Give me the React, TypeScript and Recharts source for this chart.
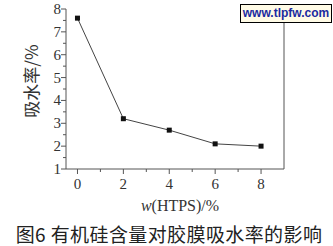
import { LineChart, Line, XAxis, YAxis } from "recharts";

const htps = [0, 2, 4, 6, 8];
const waterAbsorption = [7.6, 3.2, 2.7, 2.1, 2.0];
const xTicks = [0, 1, 2, 3, 4, 5, 6, 7, 8];
const yTicks = [1, 1.5, 2, 2.5, 3, 3.5, 4, 4.5, 5, 5.5, 6, 6.5, 7, 7.5, 8];

const data = htps.map((x, i) => ({ x, y: waterAbsorption[i] }));

const axisColor = "#555";
const serif = "'Liberation Serif', 'DejaVu Serif', serif";
const cjk = "'Noto Sans CJK SC', sans-serif";

function XTick(props: any) {
  const { x, y, payload } = props;
  const major = payload.value % 2 === 0;
  return (
    <g>
      <line x1={x} y1={y} x2={x} y2={y + (major ? 5 : 3)} stroke={axisColor} />
      {major && (
        <text x={x} y={y + 20} textAnchor="middle" fontSize={15} fontFamily={serif} fill="#333">
          {payload.value}
        </text>
      )}
    </g>
  );
}

function YTick(props: any) {
  const { x, y, payload } = props;
  const major = Number.isInteger(payload.value);
  return (
    <g>
      <line x1={x} y1={y} x2={x - (major ? 5 : 3)} y2={y} stroke={axisColor} />
      {major && (
        <text x={x - 5} y={y + 5} textAnchor="end" fontSize={15} fontFamily={serif} fill="#333">
          {payload.value}
        </text>
      )}
    </g>
  );
}

function Square(props: any) {
  const { cx, cy } = props;
  return <rect x={cx - 2.5} y={cy - 2.5} width={5} height={5} fill="#111" />;
}

export default function App() {
  return (
    <div style={{ position: "absolute", left: 0, top: 0, width: 333, height: 246, background: "#fff" }}>
      <LineChart width={333} height={246} data={data} margin={{ top: 9, right: 0, bottom: 0, left: 0 }}>
        <XAxis
          dataKey="x"
          type="number"
          domain={[-0.5, 9]}
          ticks={xTicks}
          interval={0}
          height={77}
          tickSize={0}
          tickMargin={0}
          stroke={axisColor}
          tick={<XTick />}
        />
        <XAxis xAxisId="top" dataKey="x" type="number" domain={[-0.5, 9]} orientation="top" height={0} tick={false} tickLine={false} stroke={axisColor} />
        <YAxis
          dataKey="y"
          type="number"
          domain={[1, 8]}
          ticks={yTicks}
          interval={0}
          width={66}
          tickSize={0}
          tickMargin={0}
          stroke={axisColor}
          tick={<YTick />}
        />
        <YAxis yAxisId="right" orientation="right" domain={[1, 8]} width={49} tick={false} tickLine={false} stroke={axisColor} />
        <Line
          dataKey="y"
          stroke="#444"
          strokeWidth={1}
          dot={<Square />}
          isAnimationActive={false}
        />
      </LineChart>
      <div
        style={{
          position: "absolute",
          left: 30,
          top: 81,
          transform: "translate(-50%, -50%) rotate(-90deg)",
          fontFamily: cjk,
          fontSize: 17,
          color: "#333",
          whiteSpace: "nowrap",
        }}
      >
        吸水率/%
      </div>
      <div
        style={{
          position: "absolute",
          left: 0,
          width: 360,
          top: 197,
          textAlign: "center",
          fontFamily: serif,
          fontSize: 16,
          color: "#333",
        }}
      >
        <i>w</i>(HTPS)/%
      </div>
      <div
        style={{
          position: "absolute",
          left: 0,
          width: 338,
          top: 220,
          textAlign: "center",
          fontFamily: cjk,
          fontSize: 19,
          letterSpacing: 0.4,
          color: "#222",
          whiteSpace: "nowrap",
        }}
      >
        图6 有机硅含量对胶膜吸水率的影响
      </div>
      <div
        style={{
          position: "absolute",
          left: 240,
          top: 4,
          width: 90,
          height: 17,
          border: "1px solid #000",
          background: "#fffbe6",
          color: "#1a2aa0",
          fontFamily: "'Liberation Sans', sans-serif",
          fontWeight: "bold",
          fontSize: 12,
          lineHeight: "17px",
          textAlign: "center",
          whiteSpace: "nowrap",
        }}
      >
        www.tlpfw.com
      </div>
    </div>
  );
}
